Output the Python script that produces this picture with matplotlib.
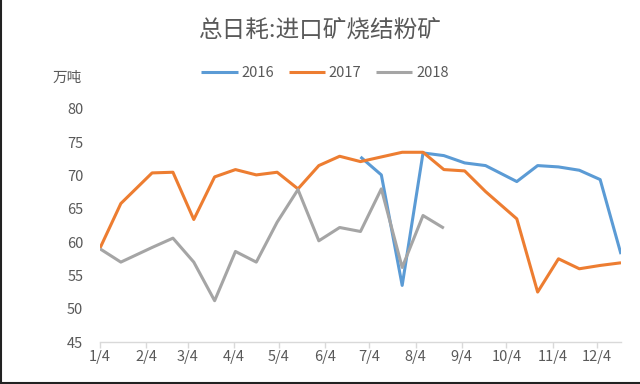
import numpy as np
import matplotlib
matplotlib.use("Agg")
import matplotlib.pyplot as plt
import matplotlib.dates as mdates
from matplotlib.lines import Line2D
import datetime as dt

plt.rcParams['font.family'] = ['Noto Sans CJK SC', 'DejaVu Sans']

title = "总日耗:进口矿烧结粉矿"
unit_label = "万吨"
dates = ["2017-01-04", "2017-01-18", "2017-02-08", "2017-02-22", "2017-03-08",
         "2017-03-22", "2017-04-05", "2017-04-19", "2017-05-03", "2017-05-17",
         "2017-05-31", "2017-06-14", "2017-06-28", "2017-07-12", "2017-07-26",
         "2017-08-09", "2017-08-23", "2017-09-06", "2017-09-20", "2017-10-11",
         "2017-10-25", "2017-11-08", "2017-11-22", "2017-12-06", "2017-12-20"]
series_names = ["2016", "2017", "2018"]
s2016 = [None] * 12 + [72.8, 70.1, 53.5, 73.4, 73.0, 71.9, 71.5, 69.1, 71.5, 71.3, 70.8, 69.4, 58.2]
s2017 = [59.1, 65.8, 70.4, 70.5, 63.4, 69.8, 70.9, 70.1, 70.5, 68.0, 71.5, 72.9, 72.1,
         72.8, 73.5, 73.5, 70.9, 70.7, 67.6, 63.5, 52.5, 57.5, 56.0, 56.5, 56.9]
s2018 = [59.0, 57.0, 59.2, 60.6, 57.0, 51.2, 58.6, 57.0, 63.0, 67.9, 60.2, 62.2, 61.6,
         68.0, 56.2, 64.0, 62.1] + [None] * 8
tick_dates = ["2017-%02d-04" % m for m in range(1, 13)]
tick_labels = ["%d/4" % m for m in range(1, 13)]
colors = ["#5B9BD5", "#ED7D31", "#A5A5A5"]

x = [dt.datetime.strptime(d, "%Y-%m-%d") for d in dates]
xt = [dt.datetime.strptime(d, "%Y-%m-%d") for d in tick_dates]

fig = plt.figure(figsize=(6.4, 3.84), dpi=100)
ax = fig.add_axes([100/640, 1-342/384, 521/640, (342-109)/384])

for name, vals, c in zip(series_names, [s2016, s2017, s2018], colors):
    y = np.array([np.nan if v is None else v for v in vals], dtype=float)
    ax.plot(x, y, color=c, lw=2.2, label=name, solid_joinstyle='round', solid_capstyle='butt')

ax.set_xlim(x[0], x[-1])
ax.set_ylim(45, 80)
ax.set_yticks(np.arange(45, 81, 5))
ax.set_xticks(xt)
ax.set_xticklabels(tick_labels)
for s in ["left", "right", "top"]:
    ax.spines[s].set_visible(False)
ax.spines["bottom"].set_color("#D9D9D9")
ax.spines["bottom"].set_linewidth(1.0)
ax.tick_params(axis="y", length=0, pad=12, labelsize=10.5, labelcolor="#595959")
ax.tick_params(axis="x", length=4, width=1.0, color="#D9D9D9", pad=2, labelsize=10.5, labelcolor="#595959")

fig.text(0.5, 1-30/384, title, ha="center", va="center", fontsize=17, color="#595959", fontweight="light")
fig.text(67/640, 1-78/384, unit_label, ha="center", va="center", fontsize=10.5, color="#595959")

leg = fig.legend(loc="center", bbox_to_anchor=(325/640, 1-73/384), ncol=3, frameon=False,
                 fontsize=10.5, handlelength=2.5, handletextpad=0.25, columnspacing=1.0)
for t in leg.get_texts():
    t.set_color("#595959")

fig.add_artist(Line2D([0.5/640, 0.5/640], [0, 1], color="#222222", lw=1.5, transform=fig.transFigure))
fig.add_artist(Line2D([0, 1], [1/384, 1/384], color="#222222", lw=1.5, transform=fig.transFigure))

fig.savefig("out.png", dpi=100, facecolor="white")
